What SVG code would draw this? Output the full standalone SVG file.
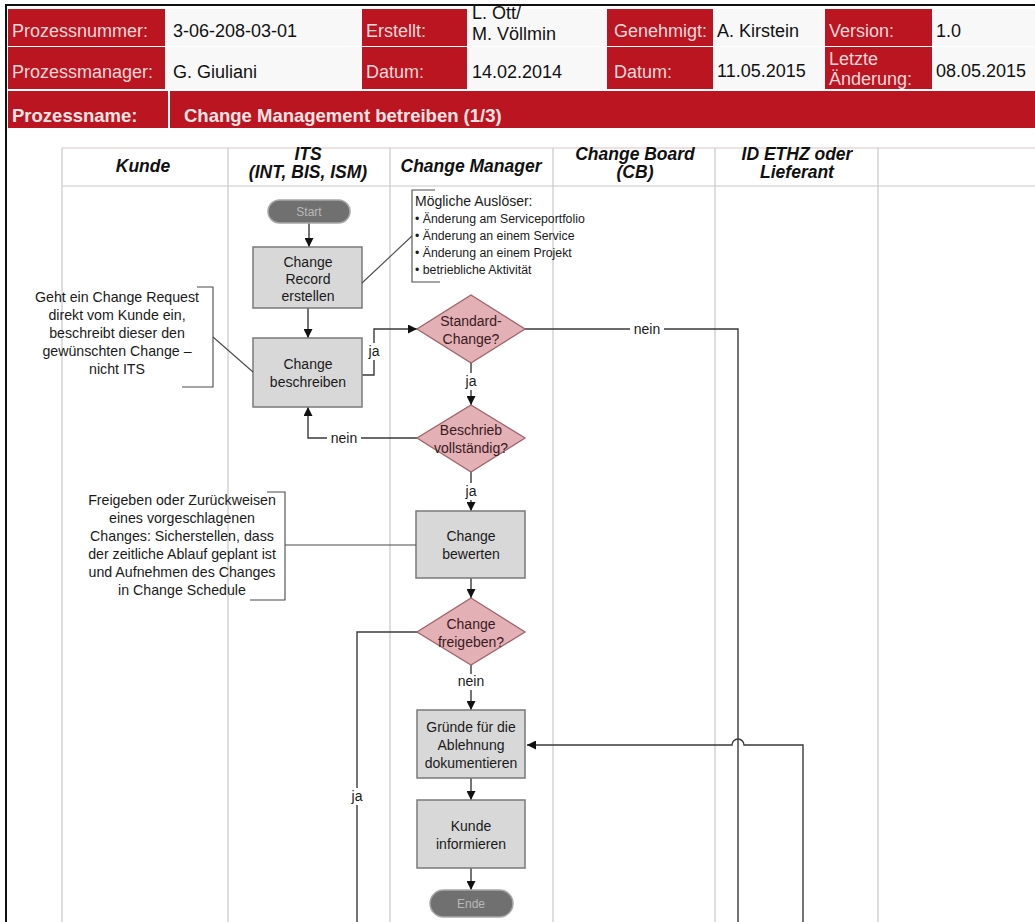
<svg xmlns="http://www.w3.org/2000/svg" width="1035" height="922" viewBox="0 0 1035 922">
<defs>
<marker id="arr" viewBox="0 0 10 10" refX="10" refY="5" markerWidth="9" markerHeight="9" markerUnits="userSpaceOnUse" orient="auto">
<path d="M0,0 L10,5 L0,10 z" fill="#111"/>
</marker>
<style>
.red{fill:#BA1520}
.wht{fill:#F8F8F8}
.lbl{font-family:"Liberation Sans",Arial,sans-serif;font-size:18px;fill:#F6D8D8}
.val{font-family:"Liberation Sans",Arial,sans-serif;font-size:18px;fill:#111}
.big{font-family:"Liberation Sans",Arial,sans-serif;font-size:18.5px;font-weight:bold;fill:#F8E4E4}
.lane{stroke:#C8C8C8;stroke-width:1.2;fill:none}
.lh{font-family:"Liberation Sans",Arial,sans-serif;font-size:17.5px;font-weight:bold;font-style:italic;fill:#111;text-anchor:middle}
.box{fill:#D8D8D8;stroke:#7A7A7A;stroke-width:1.5}
.dia{fill:#E2B0B5;stroke:#A0626A;stroke-width:1.3}
.pill{fill:#707070;stroke:#A8A8A8;stroke-width:1.5}
.nt{font-family:"Liberation Sans",Arial,sans-serif;font-size:14px;fill:#1A1A1A;text-anchor:middle}
.dt{font-family:"Liberation Sans",Arial,sans-serif;font-size:14px;fill:#3A1A1E;text-anchor:middle}
.pt{font-family:"Liberation Sans",Arial,sans-serif;font-size:12px;fill:#B8B8B8;text-anchor:middle}
.con{fill:none;stroke:#3A3A3A;stroke-width:1.4}
.cl{font-family:"Liberation Sans",Arial,sans-serif;font-size:14px;fill:#1A1A1A;text-anchor:middle}
.ann{fill:none;stroke:#4A4A4A;stroke-width:1.1}
.at{font-family:"Liberation Sans",Arial,sans-serif;font-size:14.2px;fill:#1A1A1A;text-anchor:middle}
.at2{font-family:"Liberation Sans",Arial,sans-serif;font-size:14px;fill:#1A1A1A}
.at3{font-family:"Liberation Sans",Arial,sans-serif;font-size:12.3px;fill:#1A1A1A}
.bg{fill:#FFFFFF}
</style>
</defs>
<rect x="0" y="0" width="1035" height="922" fill="#FFFFFF"/>

<g id="header">
<rect x="8" y="9" width="157" height="37" class="red"/>
<rect x="165" y="9" width="197" height="37" class="wht"/>
<rect x="362" y="9" width="105" height="37" class="red"/>
<rect x="467" y="9" width="140" height="37" class="wht"/>
<rect x="607" y="9" width="106" height="37" class="red"/>
<rect x="713" y="9" width="112" height="37" class="wht"/>
<rect x="825" y="9" width="107" height="37" class="red"/>
<rect x="932" y="9" width="103" height="37" class="wht"/>
<rect x="8" y="47" width="157" height="42" class="red"/>
<rect x="165" y="47" width="197" height="42" class="wht"/>
<rect x="362" y="47" width="105" height="42" class="red"/>
<rect x="467" y="47" width="140" height="42" class="wht"/>
<rect x="607" y="47" width="106" height="42" class="red"/>
<rect x="713" y="47" width="112" height="42" class="wht"/>
<rect x="825" y="47" width="107" height="42" class="red"/>
<rect x="932" y="47" width="103" height="42" class="wht"/>
<rect x="8" y="91" width="160" height="37" class="red"/>
<rect x="170" y="91" width="865" height="37" class="red"/>
<text x="12" y="37" class="lbl">Prozessnummer:</text>
<text x="173" y="37" class="val">3-06-208-03-01</text>
<text x="366" y="37" class="lbl">Erstellt:</text>
<text x="472" y="19" class="val">L. Ott/</text>
<text x="472" y="40" class="val">M. Völlmin</text>
<text x="614" y="37" class="lbl">Genehmigt:</text>
<text x="717" y="37" class="val">A. Kirstein</text>
<text x="829" y="37" class="lbl">Version:</text>
<text x="936" y="37" class="val">1.0</text>
<text x="12" y="78" class="lbl">Prozessmanager:</text>
<text x="173" y="78" class="val">G. Giuliani</text>
<text x="366" y="78" class="lbl">Datum:</text>
<text x="472" y="78" class="val">14.02.2014</text>
<text x="614" y="78" class="lbl">Datum:</text>
<text x="717" y="77" class="val">11.05.2015</text>
<text x="829" y="65" class="lbl">Letzte</text>
<text x="829" y="85" class="lbl">Änderung:</text>
<text x="936" y="77" class="val">08.05.2015</text>
<text x="12" y="122" class="big">Prozessname:</text>
<text x="184" y="122" class="big">Change Management betreiben (1/3)</text>
</g>

<g id="frame">
<path d="M6,922 V5 H1035" fill="none" stroke="#111" stroke-width="2"/>
</g>

<g id="lanes">
<line x1="62" y1="148" x2="1035" y2="148" stroke="#EAD6D9" stroke-width="1.5"/>
<line x1="62" y1="186" x2="1035" y2="186" class="lane"/>
<line x1="62" y1="148" x2="62" y2="922" class="lane"/>
<line x1="228" y1="148" x2="228" y2="922" class="lane"/>
<line x1="390" y1="148" x2="390" y2="922" class="lane"/>
<line x1="553" y1="148" x2="553" y2="922" class="lane"/>
<line x1="715" y1="148" x2="715" y2="922" class="lane"/>
<line x1="878" y1="148" x2="878" y2="922" class="lane"/>
<text x="143" y="172" class="lh">Kunde</text>
<text x="308" y="160" class="lh">ITS</text>
<text x="308" y="178" class="lh">(INT, BIS, ISM)</text>
<text x="471" y="172" class="lh">Change Manager</text>
<text x="635" y="160" class="lh">Change Board</text>
<text x="635" y="178" class="lh">(CB)</text>
<text x="797" y="160" class="lh">ID ETHZ oder</text>
<text x="797" y="178" class="lh">Lieferant</text>
</g>

<g id="connectors">
<path d="M309,223 V247" class="con" marker-end="url(#arr)"/>
<path d="M308,308 V338" class="con" marker-end="url(#arr)"/>
<path d="M362,375 H374 V329 H417" class="con" marker-end="url(#arr)"/>
<rect x="367" y="343" width="14" height="17" class="bg"/>
<text x="374" y="356" class="cl">ja</text>
<path d="M471,363 V405" class="con" marker-end="url(#arr)"/>
<rect x="464" y="373" width="14" height="17" class="bg"/>
<text x="471" y="386" class="cl">ja</text>
<path d="M525,329 H738 V922" class="con"/>
<rect x="630" y="321" width="34" height="16" class="bg"/>
<text x="647" y="334" class="cl">nein</text>
<path d="M417,438 H308 V407" class="con" marker-end="url(#arr)"/>
<rect x="327" y="430" width="34" height="16" class="bg"/>
<text x="344" y="443" class="cl">nein</text>
<path d="M471,472 V511" class="con" marker-end="url(#arr)"/>
<rect x="464" y="483" width="14" height="17" class="bg"/>
<text x="471" y="496" class="cl">ja</text>
<path d="M471,578 V598" class="con" marker-end="url(#arr)"/>
<path d="M417,632 H357 V922" class="con"/>
<rect x="350" y="788" width="14" height="17" class="bg"/>
<text x="357" y="801" class="cl">ja</text>
<path d="M471,665 V710" class="con" marker-end="url(#arr)"/>
<rect x="454" y="674" width="34" height="16" class="bg"/>
<text x="471" y="686" class="cl">nein</text>
<path d="M803,922 V745 H744 A6,6 0 0 0 732,745 H527" class="con" marker-end="url(#arr)"/>
<path d="M471,778 V800" class="con" marker-end="url(#arr)"/>
<path d="M471,868 V890" class="con" marker-end="url(#arr)"/>
</g>

<g id="n-start">
<rect x="268" y="200" width="82" height="23" rx="11.5" class="pill"/>
<text x="309" y="216" class="pt">Start</text>
</g>
<g id="n-record">
<rect x="253" y="247" width="109" height="61" class="box"/>
<text x="308" y="267" class="nt">Change</text>
<text x="308" y="284" class="nt">Record</text>
<text x="308" y="301" class="nt">erstellen</text>
</g>
<g id="n-beschreiben">
<rect x="253" y="338" width="109" height="69" class="box"/>
<text x="308" y="369" class="nt">Change</text>
<text x="308" y="387" class="nt">beschreiben</text>
</g>
<g id="n-standard">
<polygon points="471,295 525,329 471,363 417,329" class="dia"/>
<text x="471" y="326" class="dt">Standard-</text>
<text x="471" y="344" class="dt">Change?</text>
</g>
<g id="n-beschrieb">
<polygon points="471,405 525,438 471,472 417,438" class="dia"/>
<text x="471" y="435" class="dt">Beschrieb</text>
<text x="471" y="453" class="dt">vollständig?</text>
</g>
<g id="n-bewerten">
<rect x="416" y="511" width="109" height="67" class="box"/>
<text x="471" y="541" class="nt">Change</text>
<text x="471" y="559" class="nt">bewerten</text>
</g>
<g id="n-freigeben">
<polygon points="471,598 525,632 471,665 417,632" class="dia"/>
<text x="471" y="629" class="dt">Change</text>
<text x="471" y="647" class="dt">freigeben?</text>
</g>
<g id="n-gruende">
<rect x="417" y="710" width="108" height="68" class="box"/>
<text x="471" y="732" class="nt">Gründe für die</text>
<text x="471" y="750" class="nt">Ablehnung</text>
<text x="471" y="768" class="nt">dokumentieren</text>
</g>
<g id="n-kunde">
<rect x="417" y="800" width="108" height="68" class="box"/>
<text x="471" y="831" class="nt">Kunde</text>
<text x="471" y="849" class="nt">informieren</text>
</g>
<g id="n-ende">
<rect x="430" y="890" width="83" height="27" rx="13.5" class="pill"/>
<text x="471" y="908" class="pt">Ende</text>
</g>

<g id="a-ausloeser">
<path d="M435,190 H412 V282 H440" class="ann"/>
<path d="M362,283 L412,236" class="ann"/>
<text x="415" y="206" class="at2">Mögliche Auslöser:</text>
<text x="415" y="223" class="at3">• Änderung am Serviceportfolio</text>
<text x="415" y="240" class="at3">• Änderung an einem Service</text>
<text x="415" y="257" class="at3">• Änderung an einem Projekt</text>
<text x="415" y="274" class="at3">• betriebliche Aktivität</text>
</g>
<g id="a-request">
<path d="M197,287 H213 V387 H182" class="ann"/>
<path d="M213,337 L253,372" class="ann"/>
<text x="117" y="302" class="at">Geht ein Change Request</text>
<text x="117" y="320" class="at">direkt vom Kunde ein,</text>
<text x="117" y="338" class="at">beschreibt dieser den</text>
<text x="117" y="356" class="at">gewünschten Change –</text>
<text x="117" y="374" class="at">nicht ITS</text>
</g>
<g id="a-bewerten">
<path d="M267,492 H285 V600 H250" class="ann"/>
<path d="M285,545 H416" class="ann"/>
<text x="182" y="505" class="at">Freigeben oder Zurückweisen</text>
<text x="182" y="523" class="at">eines vorgeschlagenen</text>
<text x="182" y="541" class="at">Changes: Sicherstellen, dass</text>
<text x="182" y="559" class="at">der zeitliche Ablauf geplant ist</text>
<text x="182" y="577" class="at">und Aufnehmen des Changes</text>
<text x="182" y="595" class="at">in Change Schedule</text>
</g>
</svg>
